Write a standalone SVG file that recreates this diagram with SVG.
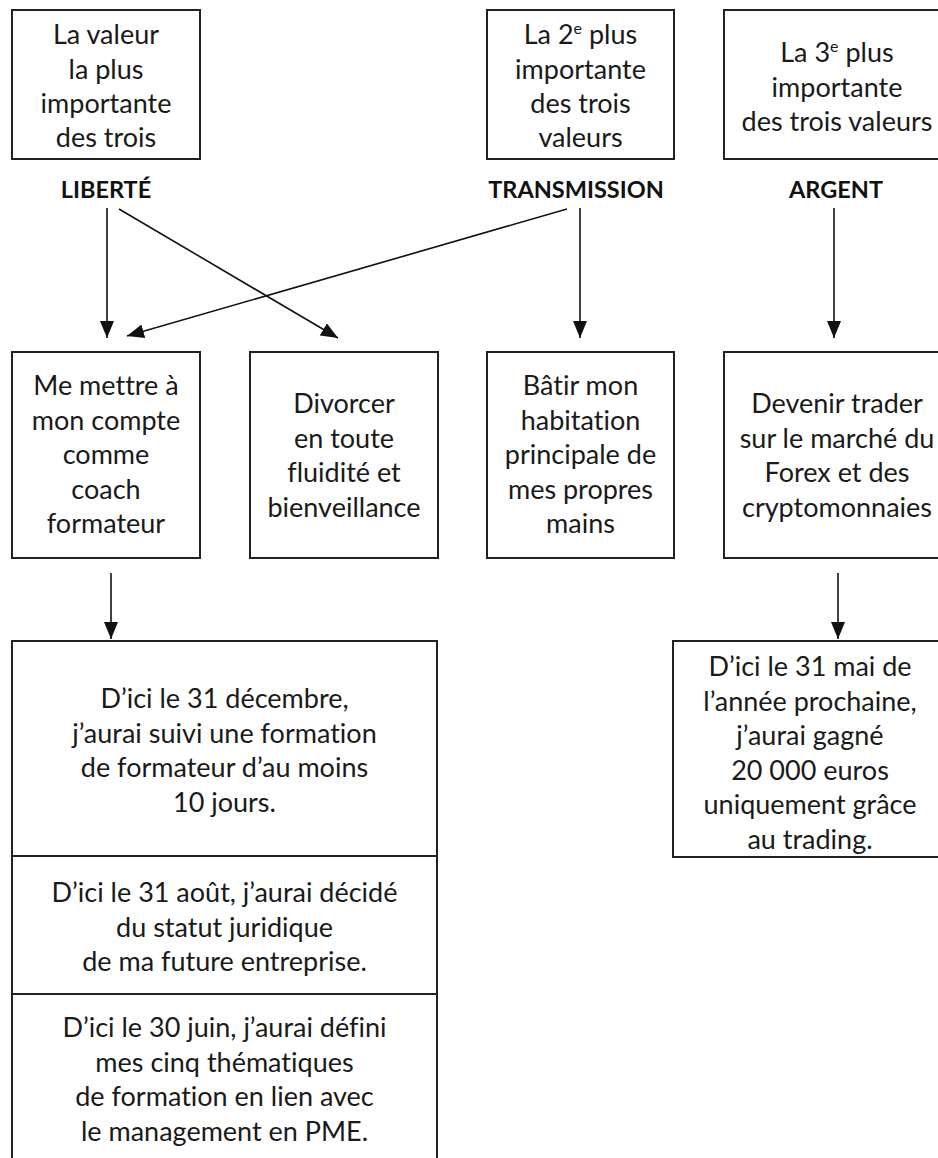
<svg xmlns="http://www.w3.org/2000/svg" width="938" height="1158" viewBox="0 0 938 1158">
  <defs>
    <marker id="head" markerUnits="userSpaceOnUse" markerWidth="18" markerHeight="14" refX="17" refY="7" orient="auto">
      <path d="M0,0 L17,7 L0,14 z" fill="#111"/>
    </marker>
    <style>
      .box { fill: #fff; stroke: #222; stroke-width: 2; }
      .t { font-family: Lato, "Liberation Sans", sans-serif; font-size: 27px; fill: #1a1a1a; text-anchor: middle; font-variant-ligatures: none; font-feature-settings: "liga" 0, "dlig" 0; }
      .k { font-family: Lato, "Liberation Sans", sans-serif; font-size: 23.5px; font-weight: bold; fill: #111; text-anchor: middle; }
      .sup { font-size: 16px; }
      .edge { stroke: #111; stroke-width: 1.6; fill: none; marker-end: url(#head); }
    </style>
  </defs>

  <rect width="938" height="1158" fill="#fff"/>

  <!-- values ranking -->
  <g id="value1">
    <rect class="box" x="12" y="10" width="188" height="149"/>
    <text class="t" x="106" y="44">La valeur</text>
    <text class="t" x="106" y="78.5">la plus</text>
    <text class="t" x="106" y="113">importante</text>
    <text class="t" x="106" y="147">des trois</text>
  </g>
  <g id="value2">
    <rect class="box" x="487" y="10" width="187" height="149"/>
    <text class="t" x="580.5" y="44">La 2<tspan class="sup" dy="-10">e</tspan><tspan dy="10"> plus</tspan></text>
    <text class="t" x="580.5" y="78.5">importante</text>
    <text class="t" x="580.5" y="113">des trois</text>
    <text class="t" x="580.5" y="147">valeurs</text>
  </g>
  <g id="value3">
    <rect class="box" x="724" y="10" width="226" height="149"/>
    <text class="t" x="837" y="62">La 3<tspan class="sup" dy="-10">e</tspan><tspan dy="10"> plus</tspan></text>
    <text class="t" x="837" y="96.5">importante</text>
    <text class="t" x="837" y="131">des trois valeurs</text>
  </g>

  <!-- value names -->
  <g id="liberte"><text class="k" x="106" y="198">LIBERTÉ</text></g>
  <g id="transmission"><text class="k" x="576" y="198">TRANSMISSION</text></g>
  <g id="argent"><text class="k" x="836" y="198">ARGENT</text></g>

  <!-- projects -->
  <g id="projet-coach">
    <rect class="box" x="12" y="352" width="188" height="206"/>
    <text class="t" x="106" y="395">Me mettre à</text>
    <text class="t" x="106" y="429.5">mon compte</text>
    <text class="t" x="106" y="464">comme</text>
    <text class="t" x="106" y="498.5">coach</text>
    <text class="t" x="106" y="533">formateur</text>
  </g>
  <g id="projet-divorce">
    <rect class="box" x="250" y="352" width="188" height="206"/>
    <text class="t" x="344" y="413">Divorcer</text>
    <text class="t" x="344" y="447.5">en toute</text>
    <text class="t" x="344" y="482">fluidité et</text>
    <text class="t" x="344" y="516.5">bienveillance</text>
  </g>
  <g id="projet-maison">
    <rect class="box" x="487" y="352" width="187" height="206"/>
    <text class="t" x="580.5" y="395">Bâtir mon</text>
    <text class="t" x="580.5" y="429.5">habitation</text>
    <text class="t" x="580.5" y="464">principale de</text>
    <text class="t" x="580.5" y="498.5">mes propres</text>
    <text class="t" x="580.5" y="533">mains</text>
  </g>
  <g id="projet-trading">
    <rect class="box" x="724" y="352" width="226" height="206"/>
    <text class="t" x="837" y="413">Devenir trader</text>
    <text class="t" x="837" y="447.5">sur le marché du</text>
    <text class="t" x="837" y="482">Forex et des</text>
    <text class="t" x="837" y="516.5">cryptomonnaies</text>
  </g>

  <!-- goals -->
  <g id="objectifs-coach">
    <rect class="box" x="12" y="641" width="425" height="540"/>
    <line x1="12" y1="856" x2="437" y2="856" stroke="#222" stroke-width="2"/>
    <line x1="12" y1="994" x2="437" y2="994" stroke="#222" stroke-width="2"/>
    <text class="t" x="224.5" y="708">D’ici le 31 décembre,</text>
    <text class="t" x="224.5" y="742.5">j’aurai suivi une formation</text>
    <text class="t" x="224.5" y="777">de formateur d’au moins</text>
    <text class="t" x="224.5" y="811.5">10 jours.</text>
    <text class="t" x="224.5" y="902">D’ici le 31 août, j’aurai décidé</text>
    <text class="t" x="224.5" y="936.5">du statut juridique</text>
    <text class="t" x="224.5" y="971">de ma future entreprise.</text>
    <text class="t" x="224.5" y="1037">D’ici le 30 juin, j’aurai défini</text>
    <text class="t" x="224.5" y="1071.5">mes cinq thématiques</text>
    <text class="t" x="224.5" y="1106">de formation en lien avec</text>
    <text class="t" x="224.5" y="1140.5">le management en PME.</text>
  </g>
  <g id="objectif-trading">
    <rect class="box" x="673" y="641" width="277" height="216"/>
    <text class="t" x="810" y="676">D’ici le 31 mai de</text>
    <text class="t" x="810" y="710.5">l’année prochaine,</text>
    <text class="t" x="810" y="745">j’aurai gagné</text>
    <text class="t" x="810" y="779.5">20 000 euros</text>
    <text class="t" x="810" y="814">uniquement grâce</text>
    <text class="t" x="810" y="848.5">au trading.</text>
  </g>

  <!-- connectors -->
  <g id="connectors">
    <line class="edge" x1="107" y1="208" x2="107" y2="338"/>
    <line class="edge" x1="119" y1="209" x2="338" y2="338"/>
    <line class="edge" x1="567" y1="209" x2="127" y2="336"/>
    <line class="edge" x1="580" y1="208" x2="580" y2="338"/>
    <line class="edge" x1="834" y1="208" x2="834" y2="338"/>
    <line class="edge" x1="111" y1="573" x2="111" y2="639"/>
    <line class="edge" x1="838" y1="573" x2="838" y2="639"/>
  </g>
</svg>
